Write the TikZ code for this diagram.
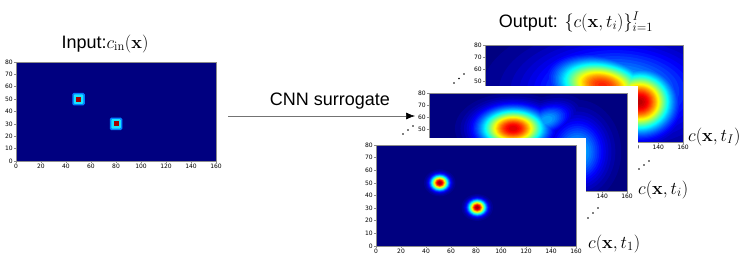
\RequirePackage{fix-cm}
\documentclass[tikz,border=0pt]{standalone}
\usepackage[no-math]{fontspec}
\newfontfamily\labelfont{Liberation Sans}
\newfontfamily\tickfont{DejaVu Sans}
\usetikzlibrary{arrows.meta}

\definecolor{jetbase}{rgb}{0,0,0.5}

% jet colour map, value in [0,1]
\newcommand{\setjet}[1]{%
  \pgfmathsetmacro\jr{max(0,min(1,4*#1-1.5,4.5-4*#1))}%
  \pgfmathsetmacro\jg{max(0,min(1,4*#1-0.5,3.5-4*#1))}%
  \pgfmathsetmacro\jb{max(0,min(1,4*#1+0.5,2.5-4*#1))}%
  \definecolor{jet}{rgb}{\jr,\jg,\jb}}

% one level of a gaussian blob: x, y, sx, sy, peak, angle
\newcommand{\blob}[6]{%
  \pgfmathsetmacro\br{sqrt(max(0,2*ln(#5/\lev)))}%
  \ifdim\br pt>0.01pt
    \fill[jet,rotate around={#6:(#1,#2)}] (#1,#2) ellipse ({#3*\br} and {#4*\br});
  \fi}

% frame, ticks and tick labels of one plot
\newcommand{\plotframe}{%
  \foreach \tx in {0,20,...,160}
    \draw[frame] (\tx,0) -- ++(0pt,-2pt) node[below,ticklab] {\tx};
  \foreach \ty in {0,10,...,80}
    \draw[frame] (0,\ty) -- ++(-2pt,0pt) node[left,ticklab] {\ty};
  \draw[frame] (0,0) rectangle (160,80);}

\begin{document}
\begin{tikzpicture}[x=1pt,y=-1pt,
    frame/.style={draw=black!45,line width=0.7pt},
    ticklab/.style={font=\tickfont\fontsize{6}{7}\selectfont,inner sep=1pt},
    title/.style={font=\labelfont\fontsize{18}{20}\selectfont,anchor=base},
    curvelab/.style={font=\fontsize{18}{20}\selectfont,anchor=base west,inner sep=0pt},
    paper/.style={fill=white},
    dotpt/.style={fill=black},
    inplot/.style={shift={(16,161)},x=1.25pt,y=1.2375pt},
    backplot/.style={shift={(485,142)},x=1.2375pt,y=1.2125pt},
    midplot/.style={shift={(429,191)},x=1.2375pt,y=1.225pt},
    frontplot/.style={shift={(376,246)},x=1.25pt,y=1.2625pt}]
\useasboundingbox (0,0) rectangle (747,260);

% input field
\begin{scope}[inplot]
  \fill[jetbase] (0,0) rectangle (160,80);
  \foreach \cx/\cy in {50/50,80/30} {
    \fill[rounded corners=1.5pt,fill={rgb,1:red,0;green,0.5;blue,1}] (\cx-5,\cy-5) rectangle (\cx+5,\cy+5);
    \fill[rounded corners=1pt,fill={rgb,1:red,0.1;green,0.9;blue,1}] (\cx-3.8,\cy-3.8) rectangle (\cx+3.8,\cy+3.8);
    \fill[fill={rgb,1:red,0.65;green,0;blue,0}] (\cx-2,\cy-2) rectangle (\cx+2,\cy+2);
  }
  \plotframe
\end{scope}

% last time step
\begin{scope}[backplot]
  \begin{scope}
    \clip (0,0) rectangle (160,80);
    \fill[jetbase] (0,0) rectangle (160,80);
    \foreach \k in {1,...,48} {
      \pgfmathsetmacro\lev{\k/50}
      \setjet{\lev}
      \blob{105}{42}{45}{25}{0.35}{0}
      \blob{95}{47}{24}{13}{0.85}{-10}
      \blob{125}{33}{17}{16}{0.95}{0}
    }
  \end{scope}
  \plotframe
\end{scope}

% middle time step
\fill[paper] (410,86) rectangle (638,203);
\begin{scope}[midplot]
  \begin{scope}
    \clip (0,0) rectangle (160,80);
    \fill[jetbase] (0,0) rectangle (160,80);
    \foreach \k in {1,...,48} {
      \pgfmathsetmacro\lev{\k/50}
      \setjet{\lev}
      \blob{120}{32}{15}{18}{0.32}{0}
      \blob{95}{58}{14}{8}{0.3}{20}
      \blob{68}{51}{17}{10.5}{0.92}{0}
    }
  \end{scope}
  \plotframe
\end{scope}

% first time step
\fill[paper] (362,138) rectangle (586,260);
\begin{scope}[frontplot]
  \begin{scope}
    \clip (0,0) rectangle (160,80);
    \fill[jetbase] (0,0) rectangle (160,80);
    \foreach \k in {1,...,48} {
      \pgfmathsetmacro\lev{\k/50}
      \setjet{\lev}
      \blob{51}{50}{4.5}{3.8}{1}{0}
      \blob{81}{30.5}{4.5}{3.8}{1}{0}
    }
  \end{scope}
  \plotframe
\end{scope}

% labels
\node[title] (inlab) at (105,48) {Input:$c_{\mathrm{in}}(\mathbf{x})$};
\node[title] (outlab) at (576,27) {Output: $\{c(\mathbf{x},t_i)\}_{i=1}^{I}$};
\node[title] (cnn) at (330,105) {CNN surrogate};
\node[curvelab] (labI) at (688,141) {$c(\mathbf{x},t_I)$};
\node[curvelab] (labi) at (638,194) {$c(\mathbf{x},t_i)$};
\node[curvelab] (labone) at (588,248) {$c(\mathbf{x},t_1)$};

% surrogate arrow
\coordinate (arrtail) at (228,116);
\coordinate (arrhead) at (415,116);
\draw[black!55,line width=0.6pt,-{Latex[black,length=9pt,width=7pt]}] (arrtail) -- (arrhead);

% dots between the time steps
\foreach \px/\py in {454/83,459/78.5,464/74, 403/134,408/130,413/126,
                     639/169,644/165,649/161, 588/218,593/213,598/208}
  \fill[dotpt] (\px,\py) circle (0.9);
\end{tikzpicture}
\end{document}
